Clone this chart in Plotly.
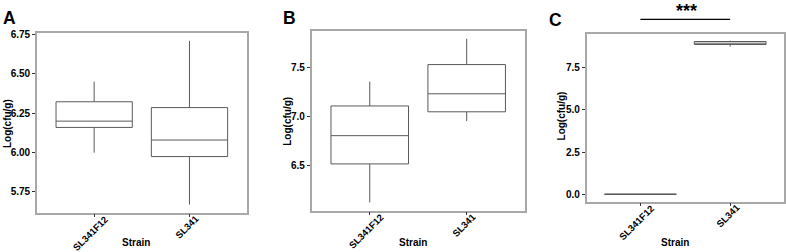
import plotly.graph_objects as go

categories = ["SL341F12", "SL341"]

# Panel A
a_lower = [6.00, 5.67]
a_q1 = [6.16, 5.975]
a_median = [6.20, 6.08]
a_q3 = [6.323, 6.286]
a_upper = [6.45, 6.71]

# Panel B
b_lower = [6.12, 6.955]
b_q1 = [6.515, 7.05]
b_median = [6.805, 7.235]
b_q3 = [7.11, 7.535]
b_upper = [7.36, 7.80]

# Panel C
c_lower = [0.0, 8.75]
c_q1 = [0.0, 8.87]
c_median = [0.0, 8.95]
c_q3 = [0.0, 9.05]
c_upper = [0.0, 9.1]

a_ticks = [5.75, 6.00, 6.25, 6.50, 6.75]
a_ticktext = ["5.75", "6.00", "6.25", "6.50", "6.75"]
b_ticks = [6.5, 7.0, 7.5]
b_ticktext = ["6.5", "7.0", "7.5"]
c_ticks = [0.0, 2.5, 5.0, 7.5]
c_ticktext = ["0.0", "2.5", "5.0", "7.5"]

W, H = 786, 252
BOX_COLOR = "#5a5a5a"
FRAME = "#a8a8a8"
FONT = "Liberation Sans"

fig = go.Figure()


def add_boxes(xa, ya, lo, q1, med, q3, up):
    fig.add_trace(go.Box(
        x=categories, lowerfence=lo, q1=q1, median=med, q3=q3, upperfence=up,
        xaxis=xa, yaxis=ya, width=0.8, whiskerwidth=0,
        line=dict(color=BOX_COLOR, width=1), fillcolor="white",
        boxpoints=False, showlegend=False, hoverinfo="skip",
    ))


add_boxes("x", "y", a_lower, a_q1, a_median, a_q3, a_upper)
add_boxes("x2", "y2", b_lower, b_q1, b_median, b_q3, b_upper)
add_boxes("x3", "y3", c_lower, c_q1, c_median, c_q3, c_upper)


def px(x):
    return x / W


def py(y):
    return 1 - y / H


tickfont = dict(family=FONT, size=10, color="black", weight="bold")
catfont = dict(family=FONT, size=9.5, color="black", weight="bold")


def xaxis(l, r, anchor):
    return dict(domain=[px(l), px(r)], anchor=anchor, type="category",
                categoryorder="array", categoryarray=categories,
                range=[-0.6, 1.6], showgrid=False, zeroline=False,
                showline=True, linecolor=FRAME, linewidth=1.5, mirror=True,
                ticks="outside", ticklen=3, tickcolor="#333",
                showticklabels=False)


def yaxis(top, bot, anchor, rng, tv, tt):
    return dict(domain=[py(bot), py(top)], anchor=anchor, range=rng,
                tickvals=tv, ticktext=tt, showgrid=False, zeroline=False,
                showline=True, linecolor=FRAME, linewidth=1.5, mirror=True,
                ticks="outside", ticklen=3, tickcolor="#333",
                tickfont=tickfont)


panels = [
    ("x", 37, 247, 29, 212),
    ("x2", 312, 525.5, 27.3, 210),
    ("x3", 587.3, 785, 30, 200.7),
]

fig.update_layout(
    width=W, height=H, margin=dict(l=0, r=0, t=0, b=0),
    paper_bgcolor="white", plot_bgcolor="white",
    xaxis=xaxis(37, 247, "y"),
    yaxis=yaxis(29, 212, "x", [5.619, 6.7625], a_ticks, a_ticktext),
    xaxis2=xaxis(312, 525.5, "y2"),
    yaxis2=yaxis(27.3, 210, "x2", [6.035, 7.881], b_ticks, b_ticktext),
    xaxis3=xaxis(587.3, 785, "y3"),
    yaxis3=yaxis(30, 200.7, "x3", [-0.43, 9.523], c_ticks, c_ticktext),
)

annotations = []
# rotated category labels
label_dx = [-4, -2]
label_dy = [21, 14.5]
for xa, l, r, t, b in panels:
    for i, cat in enumerate(categories):
        annotations.append(dict(x=i, y=py(b + label_dy[i]), xref=xa, yref="paper",
                                text=cat, showarrow=False, textangle=-45,
                                font=catfont, xanchor="center", yanchor="middle",
                                xshift=label_dx[i]))

titlefont = dict(family=FONT, size=10, color="black", weight="bold")
for xc in [136, 413.7, 675.7]:
    annotations.append(dict(x=px(xc), y=py(242), xref="paper", yref="paper",
                            text="Strain", showarrow=False, font=titlefont,
                            xanchor="center", yanchor="middle"))
for xc, yc in [(7, 121), (287, 119), (562, 114)]:
    annotations.append(dict(x=px(xc), y=py(yc), xref="paper", yref="paper",
                            text="Log(cfu/g)", showarrow=False, font=titlefont,
                            textangle=-90, xanchor="center", yanchor="middle"))
letterfont = dict(family=FONT, size=17.5, color="black", weight="bold")
for lt, xc, yc in [("A", 9.7, 14.5), ("B", 290, 14), ("C", 556.5, 16)]:
    annotations.append(dict(x=px(xc), y=py(yc), xref="paper", yref="paper",
                            text=lt, showarrow=False, font=letterfont,
                            xanchor="center", yanchor="middle"))
annotations.append(dict(x=px(687), y=py(7), xref="paper", yref="paper",
                        text="***", showarrow=False,
                        font=dict(family=FONT, size=18, color="black", weight="bold"),
                        xanchor="center", yanchor="middle"))
fig.update_layout(annotations=annotations)

fig.add_shape(type="line", xref="x3", yref="paper", x0=0, x1=1,
              y0=py(15.7), y1=py(15.7), line=dict(color="black", width=1.2))

fig.write_html("out.html", config={"displayModeBar": False},
               post_script="document.body.style.margin='0';")
